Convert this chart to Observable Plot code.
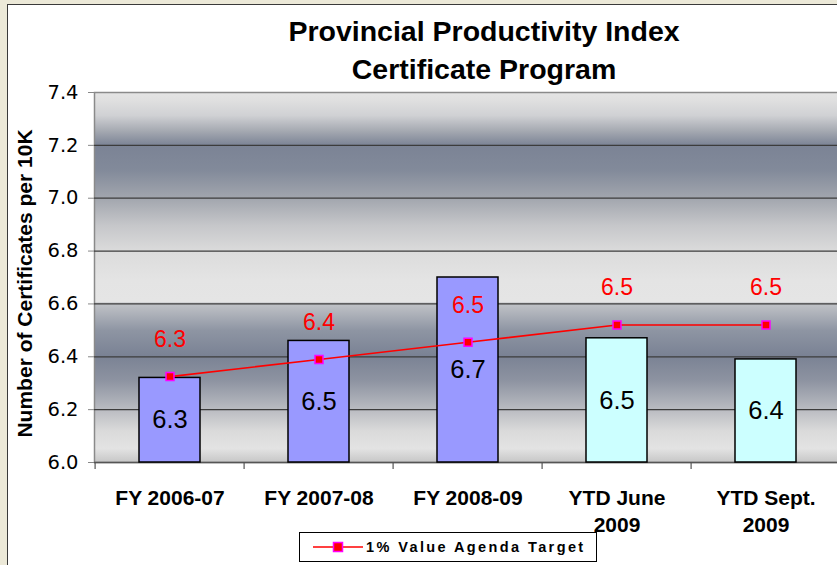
<!DOCTYPE html>
<html><head><meta charset="utf-8">
<script src="https://cdn.jsdelivr.net/npm/d3@7"></script>
<script src="https://cdn.jsdelivr.net/npm/@observablehq/plot@0.6"></script>
<style>
html,body{margin:0;padding:0;width:837px;height:565px;overflow:hidden;background:#ECE9D8;font-family:"Liberation Sans",Arial,sans-serif;}
#panel{position:absolute;left:7px;top:4px;width:900px;height:600px;background:#fff;border-left:1.5px solid #3a3a3a;border-top:1.5px solid #3a3a3a;}
#title{position:absolute;left:184px;width:600px;top:12px;text-align:center;font-weight:bold;font-size:28.5px;line-height:38px;color:#000;white-space:nowrap;}
#chart{position:absolute;left:0;top:80px;width:837px;height:485px;}
#chart svg{max-width:none;}
#legend{position:absolute;left:299px;top:532px;width:298px;height:30px;box-sizing:border-box;border:1px solid #000;background:#fff;z-index:2;}
#legend svg{position:absolute;left:0;top:0;}
#legend span{position:absolute;left:66px;top:5px;font-weight:bold;font-size:14.5px;letter-spacing:2.4px;line-height:18px;color:#000;white-space:nowrap;}
</style>
</head><body>
<div id="panel"></div>
<div id="title">Provincial Productivity Index<br>Certificate Program</div>
<div id="chart"></div>
<div id="legend"></div>
<script>
const categories = ["FY 2006-07", "FY 2007-08", "FY 2008-09", "YTD June\n2009", "YTD Sept.\n2009"];
const actual = [6.32, 6.46, 6.70, 6.47, 6.39];
const target = [6.325, 6.39, 6.455, 6.52, 6.52];
const yTicks = [6.0, 6.2, 6.4, 6.6, 6.8, 7.0, 7.2, 7.4];
const yLabel = "Number of Certificates per 10K";
const legendLabel = "1% Value Agenda Target";

const data = categories.map((c, i) => ({cat: c, actual: actual[i], target: target[i], idx: i}));

const xRange = [93.5, 842.5];
const step = (xRange[1] - xRange[0]) / categories.length;

const plot = Plot.plot({
  width: 837,
  height: 485,
  marginLeft: 94,
  marginRight: -6,
  marginTop: 12,
  marginBottom: 103,
  style: {background: "transparent", overflow: "hidden", fontFamily: "Liberation Sans, Arial, sans-serif", color: "#000"},
  x: {domain: categories, range: xRange, paddingInner: 0.59, paddingOuter: 0.295, align: 0.5},
  y: {domain: [6.0, 7.4]},
  marks: [
    Plot.frame({fill: "url(#plotbg)", stroke: "#8a8a8a", strokeWidth: 1.5}),
    Plot.ruleY(yTicks.slice(1, -1), {stroke: "#3c3c3c", strokeWidth: 1.2}),
    Plot.ruleY([yTicks[0]], {stroke: "#555", strokeWidth: 1.3}),
    Plot.ruleX(categories, {x: d => d, dx: -step / 2, y1: yTicks[0], y2: yTicks[0], insetBottom: -7, stroke: "#555", strokeWidth: 1.2}),
    Plot.axisY({ticks: yTicks, tickFormat: d => d.toFixed(1), tickSize: 6, tickPadding: 10, fontSize: 19.5, fontFamily: "DejaVu Sans", stroke: "#888", label: null}),
    Plot.axisX({tickSize: 0, tickPadding: 24, fontSize: 21, fontWeight: "bold", lineHeight: 1.26, label: null, lineAnchor: "top"}),
    Plot.text([yLabel], {frameAnchor: "left", rotate: -90, dx: -69, dy: 6, textAnchor: "middle", lineAnchor: "middle", fontSize: 21, fontWeight: "bold"}),
    Plot.barY(data, {x: "cat", y1: yTicks[0], y2: "actual", fill: d => d.idx < 3 ? "#9999FF" : "#CCFFFF", stroke: "#000", strokeWidth: 1.5}),
    Plot.text(data, {x: "cat", y: d => (yTicks[0] + d.actual) / 2, text: d => d.actual.toFixed(1), fontSize: 25.5, fill: "#000"}),
    Plot.line(data, {x: "cat", y: "target", stroke: "#FF0000", strokeWidth: 1.6}),
    Plot.dot(data, {x: "cat", y: "target", symbol: "square", r: 4.5, fill: "#FF0000", stroke: "#FF00FF", strokeWidth: 1.5}),
    Plot.text(data, {x: "cat", y: "target", text: d => d.target.toFixed(1), dy: -37, fontSize: 23, fill: "#FF0000"})
  ]
});

// background gradient for plot area
const gradStops = [
  [0, "#e4e4e4"], [0.02, "#e0e0e0"], [0.062, "#d0d1d4"], [0.103, "#a6aab2"], [0.143, "#7b8395"],
  [0.21, "#828a9a"], [0.286, "#a2a6ae"], [0.36, "#c6c7ca"], [0.432, "#dcdcdc"], [0.508, "#e4e4e4"],
  [0.566, "#e5e5e5"], [0.569, "#c2c4c8"], [0.643, "#8e95a3"], [0.711, "#7a8294"], [0.778, "#8d93a1"],
  [0.854, "#b8bac0"], [0.914, "#dadada"], [0.962, "#e3e3e3"], [1, "#c6c6c6"]
];
const grad = d3.select(plot).insert("defs", ":first-child")
  .append("linearGradient").attr("id", "plotbg")
  .attr("x1", 0).attr("y1", 0).attr("x2", 0).attr("y2", 1);
gradStops.forEach(([o, c]) => grad.append("stop").attr("offset", o).attr("stop-color", c));

document.getElementById("chart").append(plot);

// legend
const lg = document.getElementById("legend");
lg.innerHTML = `<svg width="70" height="28"><line x1="13" y1="14" x2="63" y2="14" stroke="#FF0000" stroke-width="1.6"/><rect x="33.5" y="9.5" width="9" height="9" fill="#FF0000" stroke="#FF00FF" stroke-width="1.5"/></svg>`;
const sp = document.createElement("span");
sp.textContent = legendLabel;
lg.append(sp);
</script>
</body></html>
